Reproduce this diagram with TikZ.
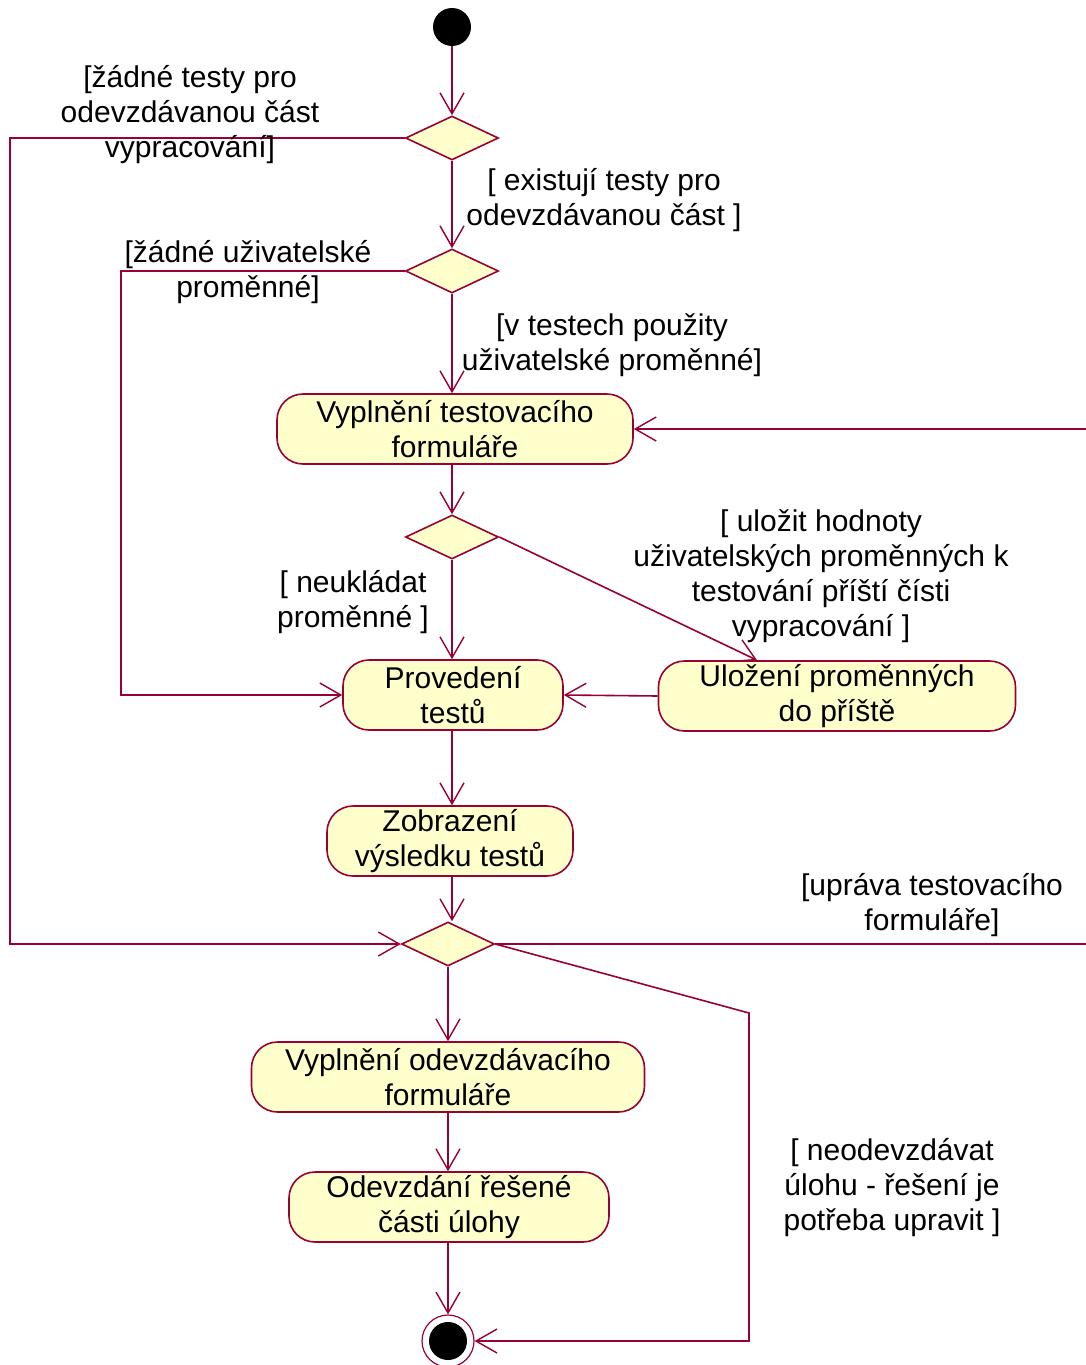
\documentclass[tikz,border=0pt]{standalone}
\usepackage{fontspec}
\setmainfont{Liberation Sans}
\usetikzlibrary{arrows.meta,shapes.geometric,calc}
\definecolor{flow}{RGB}{153,0,51}
\definecolor{actfill}{RGB}{255,255,204}
\begin{document}
\begin{tikzpicture}[x=1pt,y=-1pt,
  every node/.style={font=\fontsize{30}{35}\selectfont},
  activity/.style={draw=flow,fill=actfill,line width=1.6pt,rounded corners=26pt,
    align=center,inner sep=0pt,minimum height=70pt},
  decision/.style={draw=flow,fill=actfill,line width=1.6pt,diamond,aspect=2.1,
    inner sep=0pt,minimum width=93pt,minimum height=44pt},
  guard/.style={align=center,inner sep=0pt},
  flowline/.style={draw=flow,line width=1.6pt},
  arr/.style={flowline,-{Straight Barb[length=21pt,width=24pt,line width=1.4pt]}}
]
\useasboundingbox (0,0) rectangle (1085,1365);

% initial and final states
\node[circle,fill=black,minimum size=38pt,inner sep=0pt] (start) at (452,27) {};
\node[circle,draw=flow,fill=white,line width=1.2pt,minimum size=52pt,inner sep=0pt] (end) at (448,1341) {};
\fill[black] (end.center) circle (19pt);

% decisions
\node[decision] (d1) at (452,138) {};
\node[decision] (d2) at (452,271) {};
\node[decision] (d3) at (452,537) {};
\node[decision] (d4) at (448,944) {};

% activities
\node[activity,minimum width=356pt] (act1) at (455,429) {Vyplnění testovacího\\formuláře};
\node[activity,minimum width=220pt] (prov) at (453,695) {Provedení\\testů};
\node[activity,minimum width=357pt] (uloz) at (837,696) {Uložení proměnných\\do příště};
\node[activity,minimum width=246pt] (zob) at (450,841) {Zobrazení\\výsledku testů};
\node[activity,minimum width=393pt] (odv) at (448,1077) {Vyplnění odevzdávacího\\formuláře};
\node[activity,minimum width=320pt] (res) at (449,1207) {Odevzdání řešené\\části úlohy};

% routing points
\coordinate (c1a) at (10,138);
\coordinate (c2a) at (121,271);
\coordinate (c4a) at (1090,944);
\coordinate (c4b) at (749,1013);
\coordinate (c4c) at (749,1341);
\coordinate (uin) at ($(uloz.north)+(-80,0)$);

% flows
\draw[arr] (start) -- (start |- d1.north);
\draw[arr] (d1.west) -- (c1a) |- (d4.west);
\draw[arr] (d1.south) -- (d2.north);
\draw[arr] (d2.west) -- (c2a) |- (prov.west);
\draw[arr] (d2.south) -- (d2.south |- act1.north);
\draw[arr] (d2.south |- act1.south) -- (d3.north);
\draw[arr] (d3.south) -- (d3.south |- prov.north);
\draw[arr] (d3.east) -- (uin);
\draw[arr] (uloz.west) -- (prov.east);
\draw[arr] (d3.south |- prov.south) -- (d3.south |- zob.north);
\draw[arr] (d3.south |- zob.south) -- (d3.south |- d4.north);
\draw[arr] (d4.east) -- (c4a) |- (act1.east);
\draw[arr] (d4.south) -- (d4.south |- odv.north);
\draw[arr] (d4.east) -- (c4b) -- (c4c) -- (end.east);
\draw[arr] (d4.south |- odv.south) -- (d4.south |- res.north);
\draw[arr] (d4.south |- res.south) -- (end.north);

% guards
\node[guard] (g1) at (190,115) {[žádné testy pro\\odevzdávanou část\\vypracování]};
\node[guard] (g2) at (604,200) {[ existují testy pro\\odevzdávanou část ]};
\node[guard] (g3) at (248,272) {[žádné uživatelské\\proměnné]};
\node[guard] (g4) at (612,345) {[v testech použity\\uživatelské proměnné]};
\node[guard] (g5) at (821,576) {[ uložit hodnoty\\uživatelských proměnných k\\testování příští čísti\\vypracování ]};
\node[guard] (g6) at (353,602) {[ neukládat\\proměnné ]};
\node[guard] (g7) at (932,905) {[upráva testovacího\\formuláře]};
\node[guard] (g8) at (892,1188) {[ neodevzdávat\\úlohu - řešení je\\potřeba upravit ]};
\end{tikzpicture}
\end{document}
